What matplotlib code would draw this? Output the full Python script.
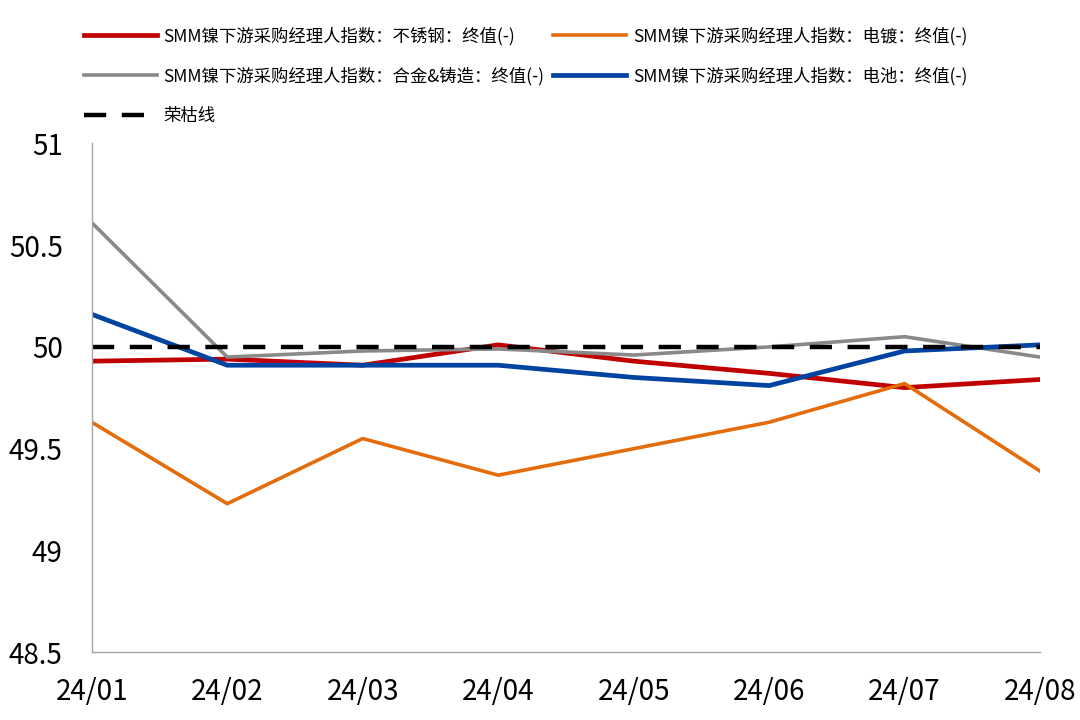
import matplotlib.pyplot as plt

plt.rcParams['font.family'] = ['Noto Sans CJK SC', 'DejaVu Sans']

# Data
months = ["24/01", "24/02", "24/03", "24/04", "24/05", "24/06", "24/07", "24/08"]
stainless = [49.93, 49.94, 49.91, 50.01, 49.93, 49.87, 49.80, 49.84]
plating = [49.63, 49.23, 49.55, 49.37, 49.50, 49.63, 49.82, 49.39]
alloy = [50.61, 49.95, 49.98, 49.99, 49.96, 50.00, 50.05, 49.95]
battery = [50.16, 49.91, 49.91, 49.91, 49.85, 49.81, 49.98, 50.01]
boom_bust = [50, 50, 50, 50, 50, 50, 50, 50]

x = list(range(len(months)))

fig = plt.figure(figsize=(10.8, 7.2), dpi=100)
ax = fig.add_axes([0.085, 0.094, 0.878, 0.707])

l1, = ax.plot(x, stainless, color="#C00000", lw=3.4,
              label="SMM镍下游采购经理人指数：不锈钢：终值(-)")
l2, = ax.plot(x, plating, color="#E46C0A", lw=2.6,
              label="SMM镍下游采购经理人指数：电镀：终值(-)")
l3, = ax.plot(x, alloy, color="#898989", lw=2.6,
              label="SMM镍下游采购经理人指数：合金&铸造：终值(-)")
l4, = ax.plot(x, battery, color="#0043A0", lw=3.4,
              label="SMM镍下游采购经理人指数：电池：终值(-)")
l5, = ax.plot(x, boom_bust, color="black", lw=3.2, linestyle=(0, (5, 3.5)),
              label="荣枯线")

ax.set_xlim(0, len(months) - 1)
ax.set_ylim(48.5, 51)
ax.set_yticks([48.5, 49, 49.5, 50, 50.5, 51])
ax.set_yticklabels(["48.5", "49", "49.5", "50", "50.5", "51"])
ax.set_xticks(x)
ax.set_xticklabels(months)
ax.tick_params(axis="both", length=0, labelsize=20)
ax.tick_params(axis="x", pad=18)
ax.tick_params(axis="y", pad=21)

for side in ["top", "right"]:
    ax.spines[side].set_visible(False)
for side in ["left", "bottom"]:
    ax.spines[side].set_color("#A6A6A6")
    ax.spines[side].set_linewidth(1.0)

fig.legend(handles=[l1, l3, l5, l2, l4], ncol=2, loc="upper left",
           bbox_to_anchor=(0.063, 0.985), frameon=False, fontsize=12.5,
           handlelength=4.2, handletextpad=0.4, columnspacing=0.5,
           labelspacing=1.25)

plt.savefig("out.png", dpi=100)
